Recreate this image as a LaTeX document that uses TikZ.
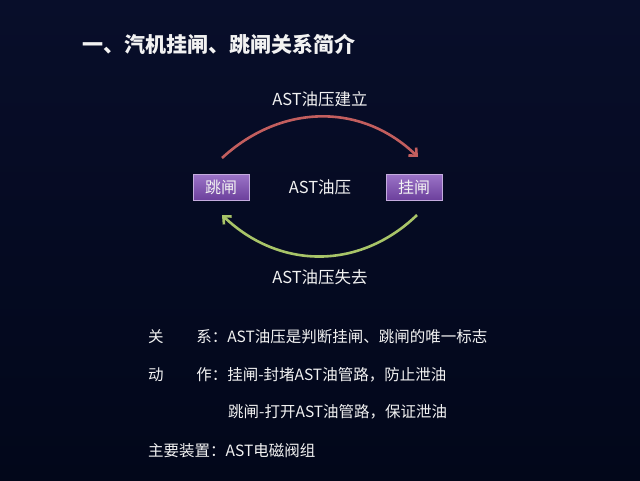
\documentclass[tikz,border=0pt]{standalone}
\usepackage{fontspec}
\setmainfont{Noto Sans CJK SC}
\usetikzlibrary{arrows.meta}
\definecolor{bgtop}{HTML}{080E2A}
\definecolor{bgbot}{HTML}{02071A}
\definecolor{boxtop}{HTML}{9C74C8}
\definecolor{boxbot}{HTML}{6C409C}
\definecolor{redarc}{HTML}{C25E5E}
\definecolor{greenarc}{HTML}{A8C468}
\definecolor{txt}{HTML}{F2F2F2}
\tikzset{
  gatebox/.style={draw=boxtop!60!white, line width=0.6pt, top color=boxtop, bottom color=boxbot,
    minimum width=56pt, minimum height=26pt, inner sep=0pt, text=txt, font=\fontsize{16}{18}\selectfont},
  lbl/.style={text=txt, inner sep=0pt, font=\fontsize{16.5}{18}\selectfont},
  body/.style={text=txt, inner sep=0pt, anchor=west, font=\fontsize{15.5}{18}\selectfont},
  arc/.style={line width=2.6pt, -{Straight Barb[length=6pt,width=11pt,line width=2.6pt]}}
}
\begin{document}
\begin{tikzpicture}[x=1pt,y=1pt]
\shade[top color=bgtop, bottom color=bgbot] (0,0) rectangle (640,-480);
\useasboundingbox (0,0) rectangle (640,-480);
\node[text=txt, inner sep=0pt, anchor=west, font=\fontsize{21}{24}\bfseries\selectfont] (title) at (82,-44) {一、汽机挂闸、跳闸关系简介};
\node[gatebox] (tiao) at (221,-187) {跳闸};
\node[gatebox] (gua) at (414,-187) {挂闸};
\node[lbl] (mid) at (320,-187) {AST油压};
\node[lbl] (up) at (320,-99) {AST油压建立};
\node[lbl] (down) at (320,-277) {AST油压失去};
\coordinate (r1) at (222,-158);
\coordinate (r2) at (418,-157);
\coordinate (g1) at (417,-215);
\coordinate (g2) at (222,-215);
\draw[arc, redarc] (r1) .. controls (282,-103) and (362,-103) .. (r2);
\draw[arc, greenarc] (g1) .. controls (360,-270) and (280,-270) .. (g2);
\node[body] (l1) at (148,-337) {关\hspace{2.1em}系：AST油压是判断挂闸、跳闸的唯一标志};
\node[body] (l2) at (148,-375) {动\hspace{2.1em}作：挂闸-封堵AST油管路，防止泄油};
\node[body] (l3) at (228,-412) {跳闸-打开AST油管路，保证泄油};
\node[body] (l4) at (148,-451) {主要装置：AST电磁阀组};
\end{tikzpicture}
\end{document}
